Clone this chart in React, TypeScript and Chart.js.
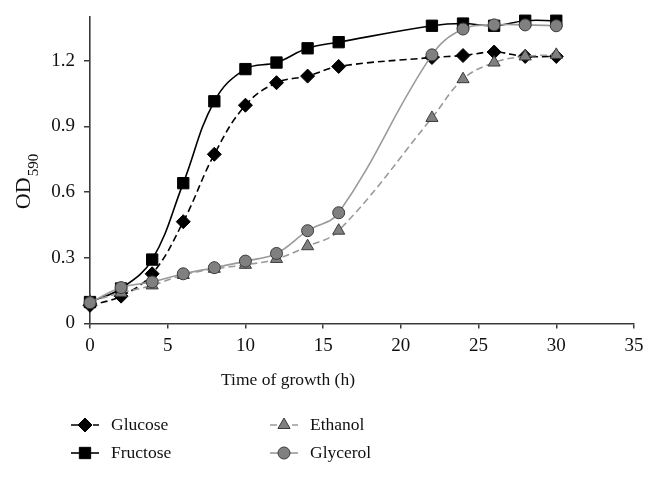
import React, { useEffect, useRef } from 'react';
import { Chart, registerables } from 'chart.js';
import { drawPoint } from 'chart.js/helpers';

Chart.register(...registerables);

const timeHours = [0, 2, 4, 6, 8, 10, 12, 14, 16, 22, 24, 26, 28, 30];
const glucose = [0.083, 0.125, 0.227, 0.465, 0.773, 0.997, 1.1, 1.13, 1.174, 1.215, 1.224, 1.24, 1.22, 1.22];
const fructose = [0.098, 0.16, 0.292, 0.641, 1.015, 1.162, 1.192, 1.257, 1.285, 1.36, 1.37, 1.36, 1.383, 1.383];
const ethanol = [0.1, 0.14, 0.174, 0.222, 0.25, 0.268, 0.295, 0.353, 0.424, 0.939, 1.116, 1.192, 1.22, 1.227];
const glycerol = [0.095, 0.164, 0.19, 0.227, 0.255, 0.285, 0.32, 0.424, 0.506, 1.227, 1.345, 1.364, 1.364, 1.36];
const seriesNames = ['Glucose', 'Fructose', 'Ethanol', 'Glycerol'];
const yTickValues = [0, 0.3, 0.6, 0.9, 1.2];
const yTickLabels = ['0', '0.3', '0.6', '0.9', '1.2'];
const xTitle = 'Time of growth (h)';
const yTitleMain = 'OD';
const yTitleSub = '590';

const FONT = '"Liberation Serif", "Times New Roman", serif';
const TEXT = '#111';
const AXIS = '#3a3a3a';

const titlesPlugin = {
  id: 'titles',
  afterDraw(chart: any) {
    const ctx = chart.ctx;
    ctx.save();
    // x-axis title
    ctx.fillStyle = TEXT;
    ctx.font = `17.5px ${FONT}`;
    ctx.textAlign = 'left';
    ctx.textBaseline = 'middle';
    ctx.fillText(xTitle, 213, 372);
    // y-axis title with subscript
    ctx.translate(22, 174);
    ctx.rotate(-Math.PI / 2);
    ctx.textBaseline = 'alphabetic';
    ctx.font = `22px ${FONT}`;
    const w1 = ctx.measureText(yTitleMain).width;
    ctx.font = `15px ${FONT}`;
    const w2 = ctx.measureText(yTitleSub).width;
    const start = -(w1 + w2) / 2;
    ctx.font = `22px ${FONT}`;
    ctx.fillText(yTitleMain, start, 0);
    ctx.font = `15px ${FONT}`;
    ctx.fillText(yTitleSub, start + w1 + 1, 8);
    ctx.restore();
  },
};

const legendPlugin = {
  id: 'customLegend',
  afterDraw(chart: any) {
    const ctx = chart.ctx;
    const positions = [
      { x: 63, y: 417 },
      { x: 63, y: 445 },
      { x: 262, y: 417 },
      { x: 262, y: 445 },
    ];
    chart.data.datasets.forEach((ds: any, i: number) => {
      const p = positions[i];
      ctx.save();
      ctx.strokeStyle = ds.borderColor;
      ctx.lineWidth = ds.borderWidth;
      ctx.setLineDash(ds.borderDash || []);
      ctx.beginPath();
      ctx.moveTo(p.x, p.y);
      ctx.lineTo(p.x + 28, p.y);
      ctx.stroke();
      ctx.setLineDash([]);
      ctx.fillStyle = ds.pointBackgroundColor;
      ctx.strokeStyle = ds.pointBorderColor;
      ctx.lineWidth = ds.pointBorderWidth;
      drawPoint(ctx, { pointStyle: ds.pointStyle, rotation: 0, radius: ds.pointRadius, borderWidth: ds.pointBorderWidth }, p.x + 14, p.y);
      ctx.fillStyle = TEXT;
      ctx.font = `17.5px ${FONT}`;
      ctx.textBaseline = 'middle';
      ctx.textAlign = 'left';
      ctx.fillText(ds.label, p.x + 40, p.y);
      ctx.restore();
    });
  },
};

export default function App() {
  const ref = useRef<HTMLCanvasElement | null>(null);
  useEffect(() => {
    if (!ref.current) return;
    const mk = (vals: number[]) => timeHours.map((t, i) => ({ x: t, y: vals[i] }));
    const chart = new Chart(ref.current, {
      type: 'line',
      data: {
        datasets: [
          {
            label: seriesNames[0], data: mk(glucose), order: 4,
            borderColor: '#000', borderWidth: 1.6, borderDash: [7, 4],
            pointStyle: 'rectRot', pointRadius: 7, pointBackgroundColor: '#000', pointBorderColor: '#000', pointBorderWidth: 1,
            tension: 0.4, clip: false,
          },
          {
            label: seriesNames[1], data: mk(fructose), order: 3,
            borderColor: '#000', borderWidth: 1.6,
            pointStyle: 'rect', pointRadius: 8, pointBackgroundColor: '#000', pointBorderColor: '#000', pointBorderWidth: 1,
            tension: 0.4, clip: false,
          },
          {
            label: seriesNames[2], data: mk(ethanol), order: 2,
            borderColor: '#9a9a9a', borderWidth: 1.6, borderDash: [7, 4],
            pointStyle: 'triangle', pointRadius: 7, pointBackgroundColor: '#808080', pointBorderColor: '#3a3a3a', pointBorderWidth: 1,
            tension: 0.4, clip: false,
          },
          {
            label: seriesNames[3], data: mk(glycerol), order: 1,
            borderColor: '#9a9a9a', borderWidth: 1.6,
            pointStyle: 'circle', pointRadius: 6, pointBackgroundColor: '#808080', pointBorderColor: '#3a3a3a', pointBorderWidth: 1,
            tension: 0.4, clip: false,
          },
        ],
      },
      options: {
        animation: false,
        responsive: false,
        events: [],
        layout: { padding: { top: 7, right: 15, bottom: 78.8, left: 0 } },
        plugins: { legend: { display: false }, tooltip: { enabled: false } },
        scales: {
          x: {
            type: 'linear', min: 0, max: 35,
            ticks: { stepSize: 5, color: TEXT, font: { family: FONT, size: 19 }, padding: 6, maxRotation: 0 },
            grid: { display: true, drawOnChartArea: false, drawTicks: true, tickLength: 5, color: AXIS, lineWidth: 1.5 },
            border: { display: true, color: AXIS, width: 1.6 },
            afterFit: (s: any) => { s.height = 66.7; s.paddingLeft = 0; s.paddingRight = 0; },
          },
          y: {
            type: 'linear', min: 0, max: 1.4,
            afterBuildTicks: (s: any) => { s.ticks = yTickValues.map((v) => ({ value: v })); },
            ticks: {
              color: TEXT, font: { family: FONT, size: 19 }, padding: 9,
              callback: (v: any) => { const i = yTickValues.indexOf(v); return i >= 0 ? yTickLabels[i] : ''; },
            },
            grid: { display: true, drawOnChartArea: false, drawTicks: true, tickLength: 6, color: AXIS, lineWidth: 1.5 },
            border: { display: true, color: AXIS, width: 1.6 },
            afterFit: (s: any) => { s.width = 82; s.paddingTop = 0; s.paddingBottom = 0; },
          },
        },
      },
      plugins: [titlesPlugin, legendPlugin],
    });
    return () => chart.destroy();
  }, []);
  return <canvas ref={ref} width={641} height={461} style={{ display: 'block', width: 641, height: 461 }} />;
}
